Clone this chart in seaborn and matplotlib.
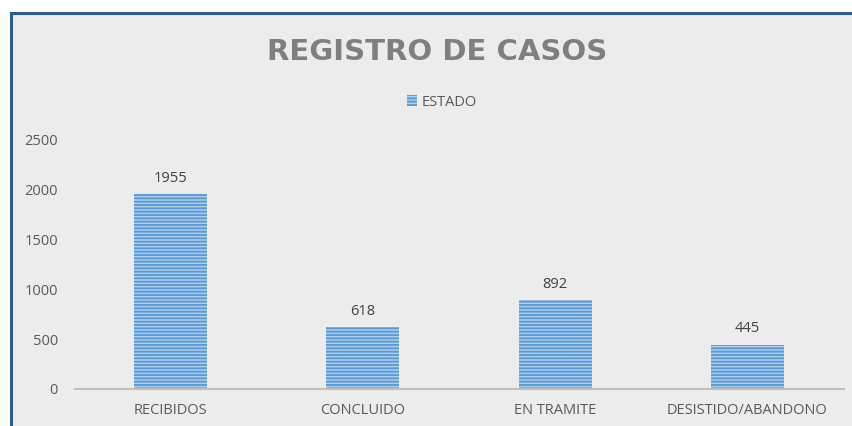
import matplotlib
matplotlib.use("Agg")
import matplotlib.pyplot as plt
import matplotlib.patches as mpatches
import seaborn as sns
import pandas as pd

categorias = ["RECIBIDOS", "CONCLUIDO", "EN TRAMITE", "DESISTIDO/ABANDONO"]
valores = [1955, 618, 892, 445]
yticks = [0, 500, 1000, 1500, 2000, 2500]

df = pd.DataFrame({"categoria": categorias, "valor": valores})

sns.set_style("white")
plt.rcParams["font.family"] = ["Open Sans", "DejaVu Sans"]
plt.rcParams["hatch.linewidth"] = 1.4

fig = plt.figure(figsize=(8.52, 4.26), dpi=100)
fig.patch.set_facecolor("white")

# grey chart frame with blue top/left border (cropped screenshot look)
frame = mpatches.Rectangle((11 / 852, -0.1), 1.0, 1 - 13 / 426 + 0.1,
                           transform=fig.transFigure, facecolor="#ECECEC",
                           edgecolor="#2E5C8A", linewidth=2.2, zorder=-5)
fig.patches.append(frame)

ax = fig.add_axes([74.5 / 852, 1 - 389 / 426, 769 / 852, 249 / 426])
ax.set_facecolor("none")

sns.barplot(data=df, x="categoria", y="valor", ax=ax, width=0.38,
            color="#B2CFEE", saturation=1)
for p in ax.patches:
    p.set_hatch("-----")
    p.set_edgecolor("#5B9BD5")
    p.set_linewidth(0)

for i, v in enumerate(valores):
    ax.text(i, v + 85, str(v), ha="center", va="bottom",
            fontsize=10.5, color="#404040")

ax.set_ylim(0, 2500)
ax.set_xlim(-0.5, 3.5)
ax.set_yticks(yticks)
ax.set_xlabel("")
ax.set_ylabel("")
ax.tick_params(axis="both", length=0, labelsize=10.5, colors="#595959")
ax.tick_params(axis="y", pad=12)
ax.tick_params(axis="x", pad=10)
for s in ["top", "right", "left"]:
    ax.spines[s].set_visible(False)
ax.spines["bottom"].set_color("#BFBFBF")
ax.spines["bottom"].set_linewidth(1.5)

fig.text(437 / 852, 1 - 52 / 426, "REGISTRO DE CASOS", ha="center",
         va="center", fontsize=21, fontweight="bold", color="#7F7F7F",
         family="DejaVu Sans")

handle = mpatches.Patch(facecolor="#B2CFEE", edgecolor="#5B9BD5",
                        hatch="-----", linewidth=0)
fig.legend([handle], ["ESTADO"], loc="center", frameon=False,
           bbox_to_anchor=(442 / 852, 1 - 102 / 426), fontsize=10.5,
           labelcolor="#595959", handlelength=0.7, handleheight=0.7,
           handletextpad=0.3)

fig.savefig("out.png", dpi=100)
